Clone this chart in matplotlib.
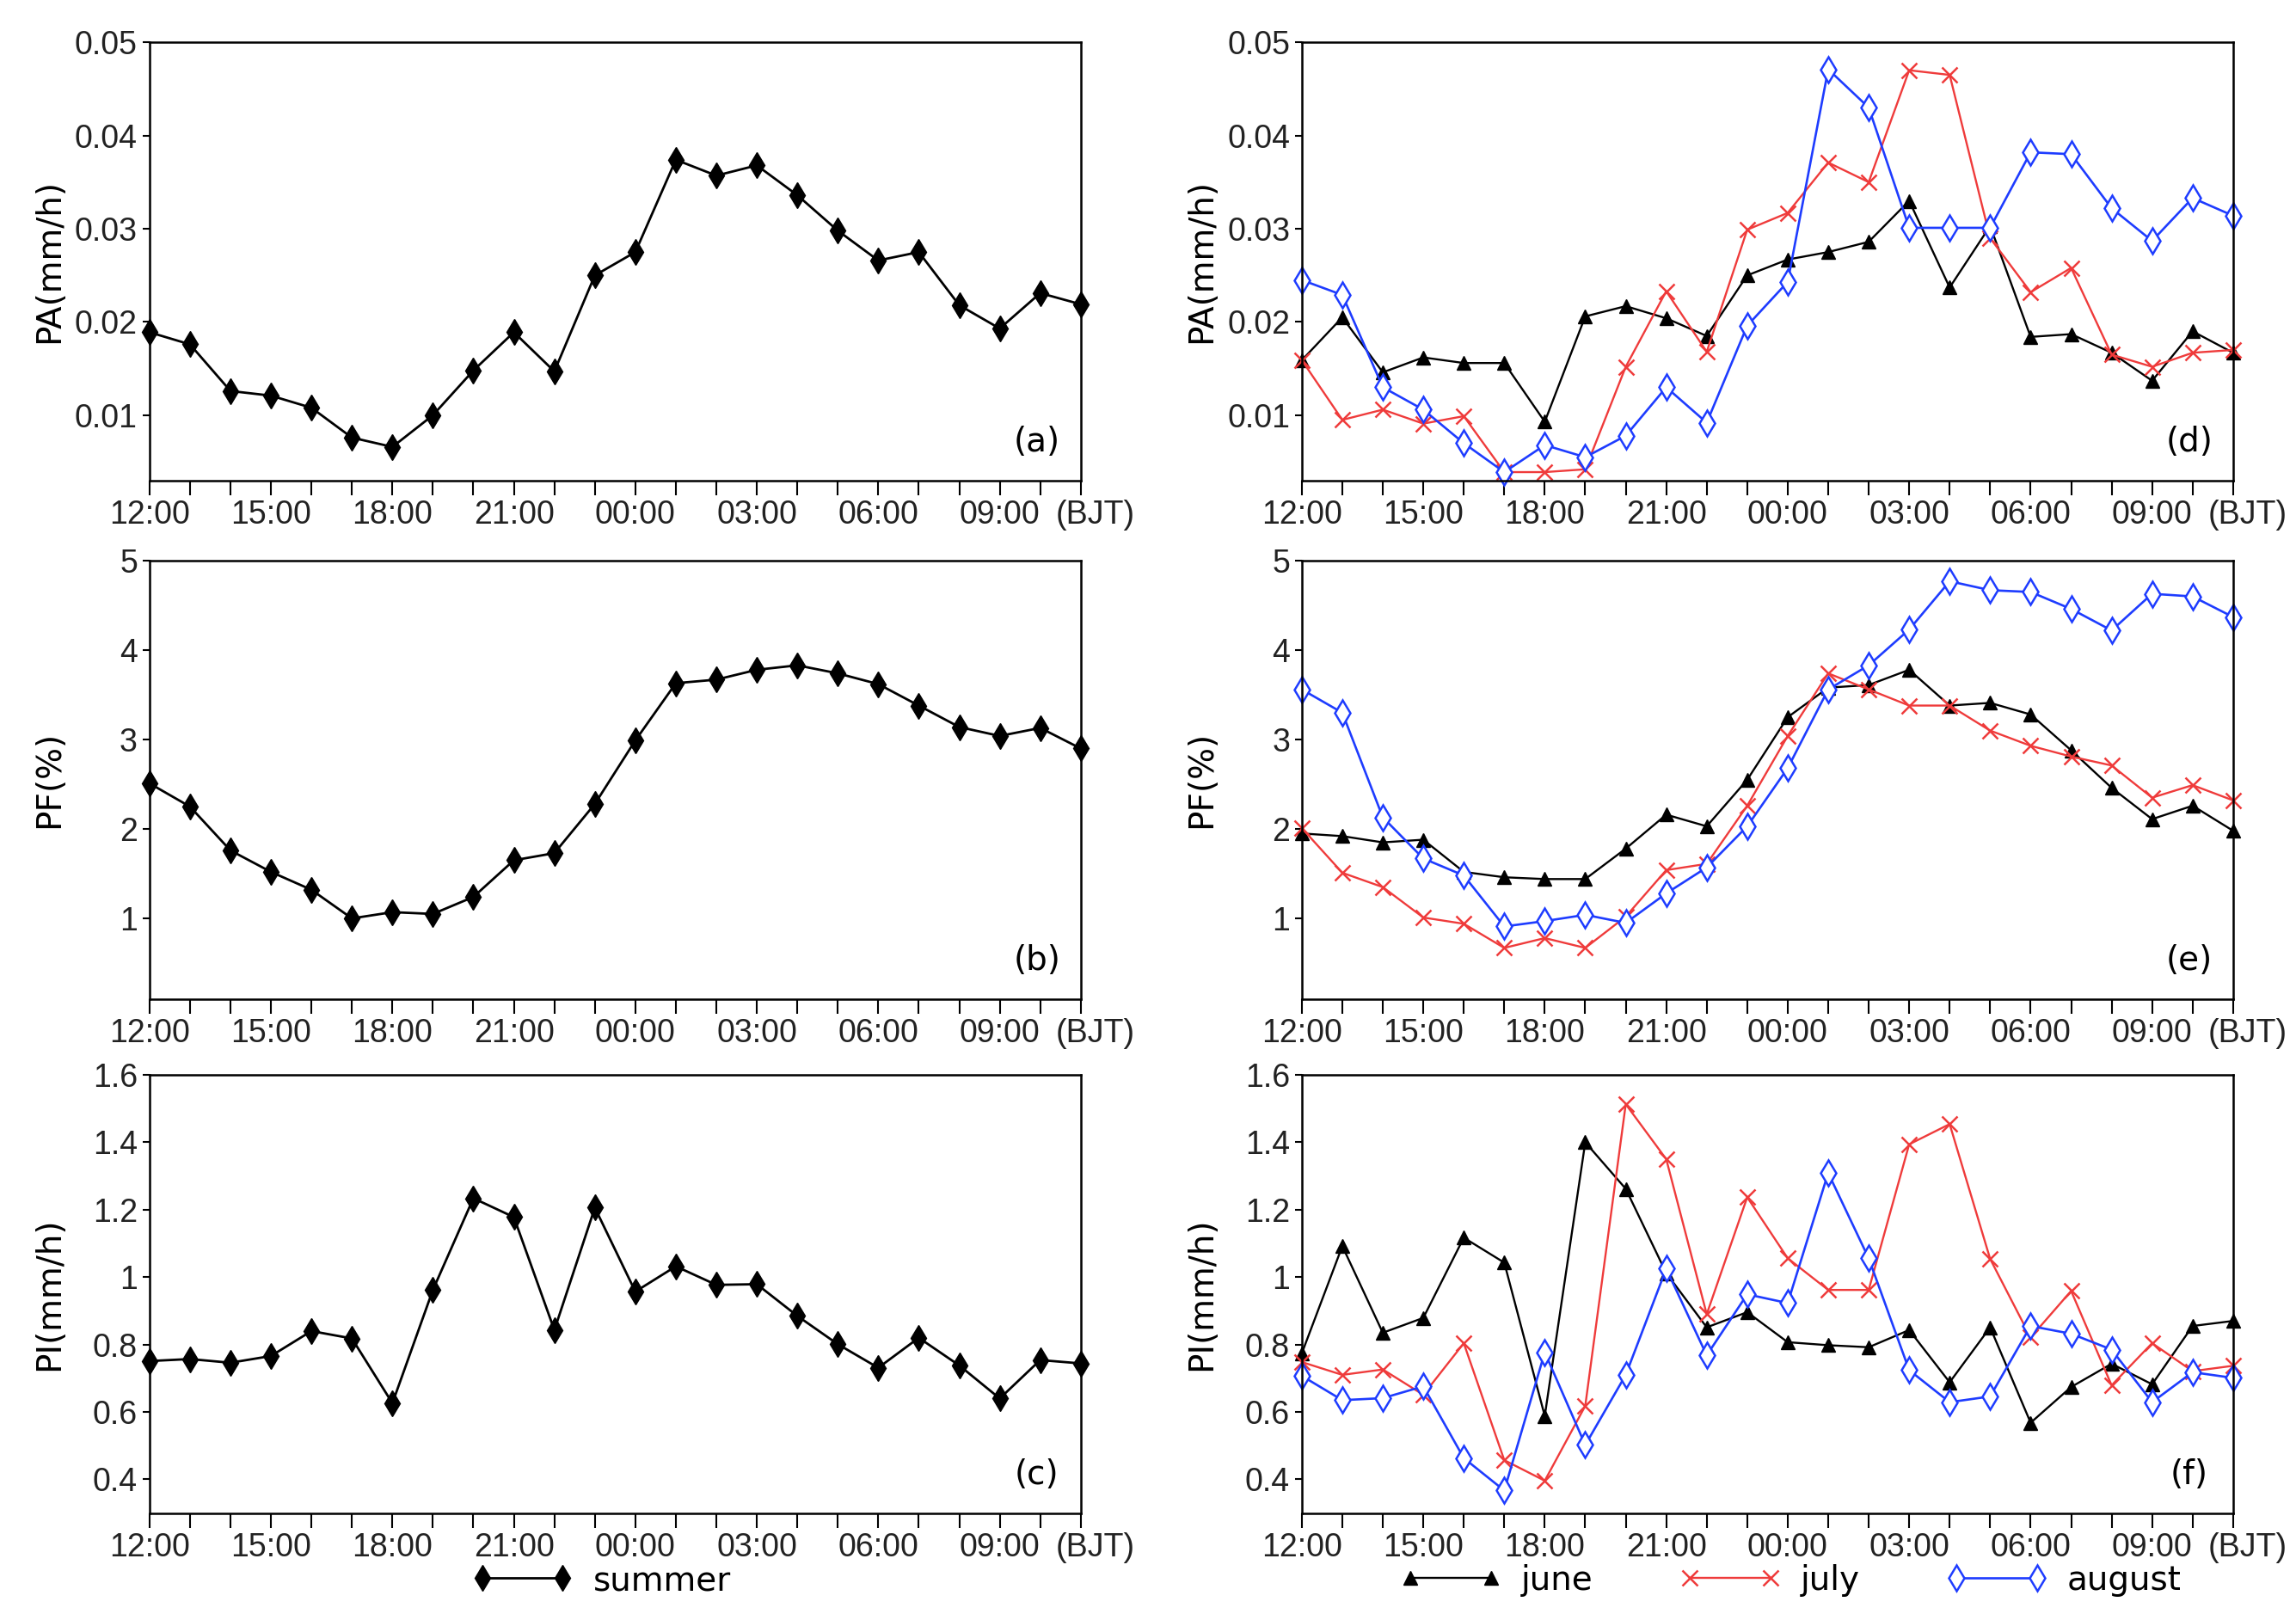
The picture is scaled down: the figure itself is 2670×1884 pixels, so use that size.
import numpy as np
import matplotlib
matplotlib.use('Agg')
from matplotlib import pyplot as plt

# hourly values, 12:00 BJT through 11:00 BJT next day
pa_summer = [0.0189, 0.0176, 0.0126, 0.0121, 0.0108, 0.0076, 0.0066, 0.0100,
             0.0148, 0.0189, 0.0147, 0.0250, 0.0275, 0.0374, 0.0357, 0.0368,
             0.0336, 0.0298, 0.0266, 0.0275, 0.0218, 0.0193, 0.0231, 0.0219]
pf_summer = [2.51, 2.25, 1.76, 1.52, 1.32, 1.00, 1.07, 1.05, 1.24, 1.65, 1.73, 2.28,
             2.99, 3.63, 3.67, 3.78, 3.83, 3.74, 3.62, 3.38, 3.14, 3.04, 3.13, 2.90]
pi_summer = [0.751, 0.757, 0.746, 0.766, 0.840, 0.818, 0.626, 0.962, 1.234, 1.178,
             0.843, 1.206, 0.957, 1.032, 0.977, 0.979, 0.885, 0.801, 0.731, 0.820,
             0.738, 0.640, 0.754, 0.744]

pa_june = [0.0159, 0.0205, 0.0146, 0.0162, 0.0156, 0.0156, 0.0093, 0.0206,
           0.0217, 0.0204, 0.0185, 0.0250, 0.0267, 0.0275, 0.0286, 0.0330,
           0.0237, 0.0303, 0.0184, 0.0187, 0.0167, 0.0137, 0.0190, 0.0167]
pa_july = [0.0159, 0.0095, 0.0106, 0.0091, 0.0099, 0.0039, 0.0039, 0.0042,
           0.0152, 0.0233, 0.0168, 0.0299, 0.0317, 0.0371, 0.0350, 0.0470,
           0.0465, 0.0290, 0.0232, 0.0258, 0.0165, 0.0152, 0.0167, 0.0170]
pa_aug = [0.0245, 0.0229, 0.0130, 0.0106, 0.0070, 0.0039, 0.0068, 0.0055,
          0.0078, 0.0130, 0.0092, 0.0196, 0.0243, 0.0471, 0.0430, 0.0301,
          0.0301, 0.0301, 0.0382, 0.0380, 0.0322, 0.0287, 0.0333, 0.0314]

pf_june = [1.95, 1.92, 1.85, 1.88, 1.52, 1.46, 1.44, 1.44, 1.78, 2.16, 2.03, 2.55,
           3.25, 3.58, 3.61, 3.78, 3.38, 3.41, 3.28, 2.88, 2.46, 2.11, 2.26, 1.98]
pf_july = [2.01, 1.51, 1.35, 1.01, 0.94, 0.67, 0.78, 0.67, 1.02, 1.54, 1.61, 2.26,
           3.04, 3.74, 3.56, 3.38, 3.38, 3.10, 2.93, 2.81, 2.71, 2.35, 2.49, 2.32]
pf_aug = [3.56, 3.30, 2.13, 1.67, 1.48, 0.91, 0.97, 1.04, 0.95, 1.28, 1.57, 2.03,
          2.68, 3.56, 3.83, 4.23, 4.77, 4.67, 4.65, 4.46, 4.22, 4.63, 4.60, 4.37]

pi_june = [0.774, 1.092, 0.835, 0.879, 1.117, 1.043, 0.588, 1.400, 1.262, 1.012,
           0.851, 0.896, 0.807, 0.798, 0.792, 0.843, 0.688, 0.851, 0.568, 0.674,
           0.743, 0.682, 0.855, 0.870]
pi_july = [0.748, 0.710, 0.726, 0.651, 0.804, 0.457, 0.396, 0.618, 1.513, 1.350,
           0.890, 1.237, 1.056, 0.962, 0.962, 1.394, 1.454, 1.054, 0.821, 0.959,
           0.679, 0.804, 0.721, 0.737]
pi_aug = [0.707, 0.635, 0.641, 0.676, 0.463, 0.367, 0.777, 0.502, 0.710, 1.025,
          0.768, 0.949, 0.923, 1.309, 1.056, 0.724, 0.629, 0.646, 0.855, 0.832,
          0.785, 0.629, 0.718, 0.701]

xtick_labels = ['12:00', '', '', '15:00', '', '', '18:00', '', '', '21:00', '', '',
                '00:00', '', '', '03:00', '', '', '06:00', '', '', '09:00', '', '']

pa_ticks = [0.01, 0.02, 0.03, 0.04, 0.05]
pa_labels = ['0.01', '0.02', '0.03', '0.04', '0.05']
pf_ticks = [1, 2, 3, 4, 5]
pf_labels = ['1', '2', '3', '4', '5']
pi_ticks = [0.4, 0.6, 0.8, 1.0, 1.2, 1.4, 1.6]
pi_labels = ['0.4', '0.6', '0.8', '1', '1.2', '1.4', '1.6']

RED = '#ef3b3b'
BLUE = '#1e3cff'
TICKFONT = ['Liberation Sans', 'DejaVu Sans']
WIDEFONT = ['DejaVu Sans']

fig = plt.figure(figsize=(26.7, 18.84), dpi=100)

lefts = [0.0651, 0.567]
width = 0.4056
bottoms = [0.7034, 0.3834, 0.0660]
height = 0.2705

rows = [
    ('PA(mm/h)', (0.003, 0.05), pa_ticks, pa_labels),
    ('PF(%)', (0.1, 5.0), pf_ticks, pf_labels),
    ('PI(mm/h)', (0.3, 1.6), pi_ticks, pi_labels),
]
letters = [['(a)', '(b)', '(c)'], ['(d)', '(e)', '(f)']]
summer_data = [pa_summer, pf_summer, pi_summer]
month_data = [(pa_june, pa_july, pa_aug), (pf_june, pf_july, pf_aug),
              (pi_june, pi_july, pi_aug)]

x = np.arange(len(pa_summer))
handles_left = None
handles_right = None

for col in range(2):
    for row in range(3):
        ax = fig.add_axes([lefts[col], bottoms[row], width, height])
        ylabel, ylim, yt, ytl = rows[row]
        if col == 0:
            h, = ax.plot(x, summer_data[row], color='black', lw=2.0,
                         marker='d', ms=15, mfc='black', mec='black',
                         label='summer', clip_on=False)
            handles_left = [h]
        else:
            june, july, aug = month_data[row]
            h1, = ax.plot(x, june, color='black', lw=1.7, marker='^', ms=11,
                          mfc='black', mec='black', label='june', clip_on=False)
            h2, = ax.plot(x, july, color=RED, lw=1.7, marker='x', ms=13,
                          mew=1.8, label='july', clip_on=False)
            h3, = ax.plot(x, aug, color=BLUE, lw=1.9, marker='d', ms=15,
                          mfc='white', mec=BLUE, mew=1.8, label='august',
                          clip_on=False)
            handles_right = [h1, h2, h3]

        ax.set_xlim(0, len(x) - 1)
        ax.set_ylim(*ylim)
        ax.set_xticks(x)
        ax.set_xticklabels(xtick_labels, family=TICKFONT, fontsize=27, color='#222222')
        ax.set_yticks(yt)
        ax.set_yticklabels(ytl, family=TICKFONT, fontsize=27, color='#222222')
        ax.tick_params(axis='x', direction='out', length=12, width=1.5, pad=4)
        ax.tick_params(axis='y', direction='out', length=6, width=1.5, pad=4)
        for sp in ax.spines.values():
            sp.set_linewidth(1.8)
        ax.set_ylabel(ylabel, family=WIDEFONT, fontsize=28)
        ax.yaxis.set_label_coords(-0.09, 0.5)
        ax.annotate('(BJT)', xy=(len(x) - 1, 0), xycoords=('data', 'axes fraction'),
                    xytext=(12, -16), textcoords='offset points', color='#222222',
                    ha='center', va='top', family=TICKFONT, fontsize=27)
        ax.text(0.953, 0.087, letters[col][row], transform=ax.transAxes,
                ha='center', va='center', family=WIDEFONT, fontsize=28)

leg1 = fig.legend(handles=handles_left, loc='center', bbox_to_anchor=(0.262, 0.0244),
                  frameon=False, numpoints=2, handlelength=3.0, handletextpad=0.6,
                  prop={'family': WIDEFONT, 'size': 28})
leg2 = fig.legend(handles=handles_right, loc='center', bbox_to_anchor=(0.78, 0.0244),
                  ncol=3, frameon=False, numpoints=2, handlelength=3.0,
                  handletextpad=0.6, columnspacing=2.6,
                  prop={'family': WIDEFONT, 'size': 28})

fig.savefig('out.png', dpi=100)
